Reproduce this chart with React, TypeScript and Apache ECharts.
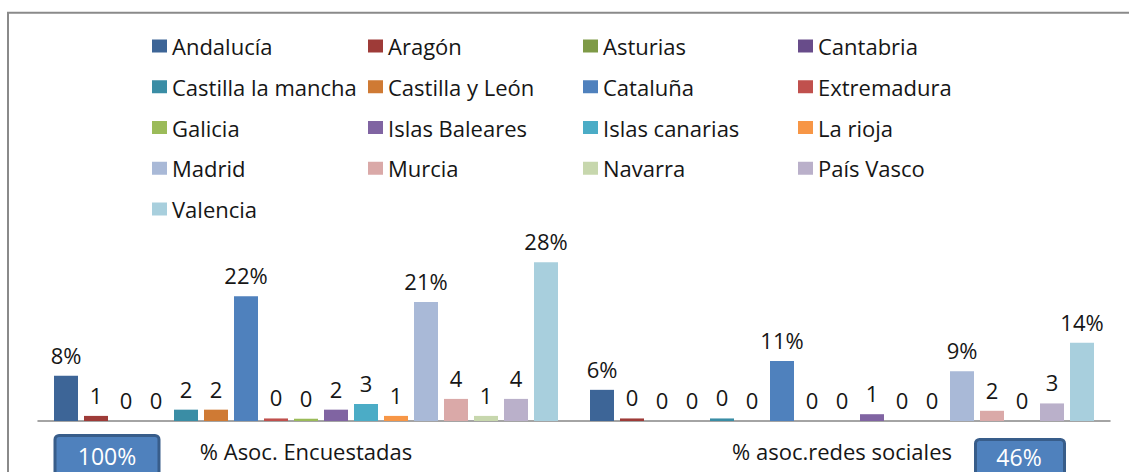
import React, { useEffect, useRef } from "react";
import * as echarts from "echarts";

const categories = ["% Asoc. Encuestadas", "% asoc.redes sociales"];

const regions = [
  "Andalucía", "Aragón", "Asturias", "Cantabria", "Castilla la mancha", "Castilla y León",
  "Cataluña", "Extremadura", "Galicia", "Islas Baleares", "Islas canarias", "La rioja",
  "Madrid", "Murcia", "Navarra", "País Vasco", "Valencia",
];

const regionColors = [
  "#3D6597", "#9E3B38", "#7E9A46", "#684C8A", "#3A8DA5", "#CF7A34",
  "#4F81BD", "#C0504D", "#9BBB59", "#8064A2", "#4BACC6", "#F79646",
  "#A9B9D7", "#DAA9A8", "#C7D7AD", "#BAB0CA", "#A8CFDD",
];

const valuesEncuestadas = [8, 0.9, 0, 0, 2, 2, 22, 0.45, 0.4, 2, 3, 0.9, 21, 3.9, 0.9, 3.9, 28];
const valuesRedes = [5.5, 0.45, 0, 0, 0.45, 0, 10.6, 0, 0, 1.2, 0, 0, 8.8, 1.8, 0, 3.1, 13.8];

const labelsEncuestadas = ["8%", "1", "0", "0", "2", "2", "22%", "0", "0", "2", "3", "1", "21%", "4", "1", "4", "28%"];
const labelsRedes = ["6%", "0", "0", "0", "0", "0", "11%", "0", "0", "1", "0", "0", "9%", "2", "0", "3", "14%"];

const legendColumns = [
  ["Andalucía", "Castilla la mancha", "Galicia", "Madrid", "Valencia"],
  ["Aragón", "Castilla y León", "Islas Baleares", "Murcia"],
  ["Asturias", "Cataluña", "Islas canarias", "Navarra"],
  ["Cantabria", "Extremadura", "La rioja", "País Vasco"],
];

const totalEncuestadas = "100%";
const totalRedes = "46%";

const FONT = "Open Sans";
const TEXT = "#161616";

export default function App() {
  const ref = useRef<HTMLDivElement>(null);

  useEffect(() => {
    if (!ref.current) return;
    const chart = echarts.init(ref.current, null, { renderer: "svg" });
    const legendLefts = [152, 368, 583, 798];

    const series = regions.map((name, i) => ({
      name,
      type: "bar",
      barWidth: 24,
      barGap: "25%",
      itemStyle: { color: regionColors[i] },
      data: [valuesEncuestadas[i], valuesRedes[i]],
      label: {
        show: true,
        position: "top",
        distance: 10,
        fontFamily: FONT,
        fontSize: 22,
        lineHeight: 22,
        color: TEXT,
        formatter: (p: any) => (p.dataIndex === 0 ? labelsEncuestadas[i] : labelsRedes[i]),
      },
    }));

    chart.setOption({
      animation: false,
      textStyle: { fontFamily: FONT },
      legend: legendColumns.map((col, k) => ({
        orient: "vertical",
        left: legendLefts[k],
        top: 34,
        padding: 0,
        itemGap: 16.75,
        itemWidth: 15,
        itemHeight: 13,
        icon: "rect",
        data: col,
        selectedMode: false,
        textStyle: { fontFamily: FONT, fontSize: 22, lineHeight: 24, color: TEXT },
        itemStyle: { borderWidth: 0 },
      })),
      grid: { left: 38, right: 19, top: 251, bottom: 51 },
      xAxis: {
        type: "category",
        data: categories,
        axisLine: { show: true, lineStyle: { color: "#868686", width: 1.5 } },
        axisTick: { show: false },
        axisLabel: { margin: 19, fontFamily: FONT, fontSize: 22, lineHeight: 22, color: TEXT },
      },
      yAxis: {
        type: "value",
        min: 0,
        max: 30,
        show: false,
        splitLine: { show: false },
      },
      series,
      graphic: [
        {
          type: "rect",
          shape: { x: 8, y: 12.8, width: 1300, height: 600 },
          style: { fill: "none", stroke: "#8a8a8a", lineWidth: 2 },
          silent: true,
        },
        {
          type: "rect",
          shape: { x: 55, y: 435.5, width: 104, height: 60, r: 4 },
          style: { fill: "#4F81BD", stroke: "#385D8A", lineWidth: 3 },
        },
        {
          type: "text",
          x: 107,
          y: 456,
          style: {
            text: totalEncuestadas,
            fill: "#ffffff",
            font: `23px "${FONT}"`,
            align: "center",
            verticalAlign: "middle",
          },
        },
        {
          type: "rect",
          shape: { x: 975.5, y: 439.5, width: 89, height: 60, r: 4 },
          style: { fill: "#4F81BD", stroke: "#385D8A", lineWidth: 3 },
        },
        {
          type: "text",
          x: 1019,
          y: 457,
          style: {
            text: totalRedes,
            fill: "#ffffff",
            font: `23px "${FONT}"`,
            align: "center",
            verticalAlign: "middle",
          },
        },
      ],
    });

    return () => chart.dispose();
  }, []);

  return (
    <div
      ref={ref}
      style={{ position: "absolute", left: 0, top: 0, width: 1129, height: 472, background: "#ffffff" }}
    />
  );
}
